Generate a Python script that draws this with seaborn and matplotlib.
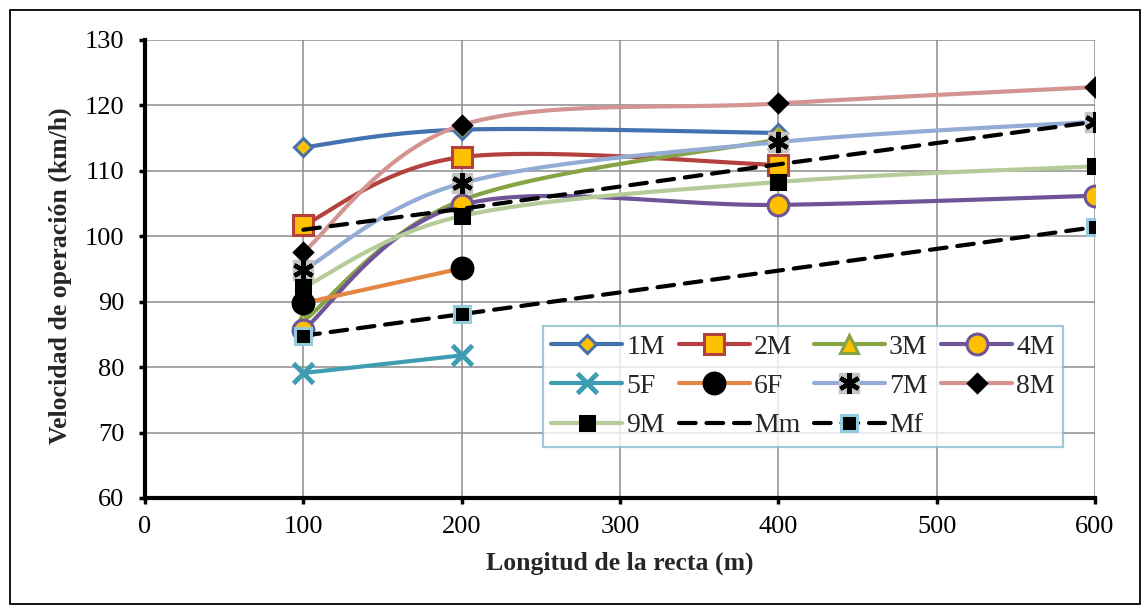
import numpy as np
import pandas as pd
import matplotlib
matplotlib.use("Agg")
import matplotlib.pyplot as plt
import seaborn as sns
from matplotlib.lines import Line2D
from matplotlib.legend_handler import HandlerTuple
from matplotlib.patches import Rectangle

# ---------------- data ----------------
x_1M = [100, 200, 400]
y_1M = [113.6, 116.3, 115.8]
x_2M = [100, 200, 400]
y_2M = [101.7, 112.1, 110.9]
x_3M = [100, 200, 400]
y_3M = [87.0, 105.5, 114.8]
x_4M = [100, 200, 400, 600]
y_4M = [85.7, 104.8, 104.8, 106.2]
x_5F = [100, 200]
y_5F = [79.1, 81.8]
x_6F = [100, 200]
y_6F = [89.8, 95.1]
x_7M = [100, 200, 400, 600]
y_7M = [94.8, 108.1, 114.4, 117.5]
x_8M = [100, 200, 400, 600]
y_8M = [97.6, 117.0, 120.3, 122.8]
x_9M = [100, 200, 400, 600]
y_9M = [92.2, 103.1, 108.3, 110.7]
x_Mm = [100, 200, 400, 600]
y_Mm = [101.0, 104.2, 111.0, 117.5]
x_Mf = [100, 200, 600]
y_Mf = [84.8, 88.1, 101.4]

x_ticks = [0, 100, 200, 300, 400, 500, 600]
y_ticks = [60, 70, 80, 90, 100, 110, 120, 130]
x_label = "Longitud de la recta (m)"
y_label = "Velocidad de operación (km/h)"

# ---------------- style ----------------
sns.set_theme(style="white")
plt.rcParams["font.family"] = ["Liberation Serif", "DejaVu Serif"]

YEL = "#FFC000"
series = [
    # name, x, y, color, marker, ms, face, edge, smooth, dashed
    ("1M", x_1M, y_1M, "#4472AE", "D", 9.5, YEL, "#4472AE", True, False),
    ("2M", x_2M, y_2M, "#B4413E", "s", 14, YEL, "#B4413E", True, False),
    ("3M", x_3M, y_3M, "#86A444", "^", 13, YEL, "#86A444", True, False),
    ("4M", x_4M, y_4M, "#6F5597", "o", 15, YEL, "#6F5597", True, False),
    ("5F", x_5F, y_5F, "#3F9DB3", "x", 14, "#3F9DB3", "#3F9DB3", True, False),
    ("6F", x_6F, y_6F, "#E48744", "o", 15, "black", "black", True, False),
    ("7M", x_7M, y_7M, "#92ACD6", "7M", 15, "#C4C4C4", "black", True, False),
    ("8M", x_8M, y_8M, "#D39492", "D", 9.5, "black", "black", True, False),
    ("9M", x_9M, y_9M, "#B6CC98", "s", 10, "black", "black", True, False),
    ("Mm", x_Mm, y_Mm, "black", None, 0, None, None, False, True),
    ("Mf", x_Mf, y_Mf, "black", "s", 12, "black", "#93CDDD", False, True),
]


def smooth(x, y, n=40):
    pts = np.column_stack([x, y]).astype(float)
    if len(pts) < 3:
        return pts
    out = []
    for i in range(len(pts) - 1):
        p0 = pts[i - 1] if i > 0 else pts[i]
        p1 = pts[i]
        p2 = pts[i + 1]
        p3 = pts[i + 2] if i + 2 < len(pts) else pts[i + 1]
        c1 = p1 + (p2 - p0) / 6.0
        c2 = p2 - (p3 - p1) / 6.0
        t = np.linspace(0, 1, n)[:, None]
        seg = (1 - t) ** 3 * p1 + 3 * (1 - t) ** 2 * t * c1 + 3 * (1 - t) * t ** 2 * c2 + t ** 3 * p2
        out.append(seg if i == 0 else seg[1:])
    return np.vstack(out)


W, H = 1146, 609
fig = plt.figure(figsize=(W / 100, H / 100), dpi=100)
ax = fig.add_axes([145 / W, (H - 498) / H, (1095 - 145) / W, (498 - 40) / H])

LW = 3.0
DASH = (4.0, 2.6)
STAR = (6, 2, 0)
handles = {}
z = 3
for name, xs, ys, col, mk, ms, fc, ec, sm, dashed in series:
    pts = smooth(xs, ys) if sm else np.column_stack([xs, ys])
    df = pd.DataFrame({"x": pts[:, 0], "y": pts[:, 1]})
    sns.lineplot(data=df, x="x", y="y", ax=ax, sort=False, estimator=None,
                 color=col, lw=LW, zorder=z, legend=False)
    line = ax.lines[-1]
    line.set_solid_capstyle("round")
    if dashed:
        line.set_linestyle((0, DASH))
        line.set_dash_capstyle("round")
    if mk == "7M":
        ax.plot(xs, ys, ls="none", marker="s", ms=ms, mfc=fc, mec=fc, zorder=z + 0.5)
        ax.plot(xs, ys, ls="none", marker=STAR, ms=ms * 1.0, mec="black", mew=3.2, zorder=z + 0.6)
        h = (Line2D([], [], color=col, lw=LW, marker="s", ms=ms, mfc=fc, mec=fc, solid_capstyle="round"),
             Line2D([], [], ls="none", marker=STAR, ms=ms * 1.0, mec="black", mew=3.2))
    elif mk == "x":
        ax.plot(xs, ys, ls="none", marker="x", ms=ms, mec=col, mew=3.5, zorder=z + 0.5)
        h = Line2D([], [], color=col, lw=LW, marker="x", ms=ms, mec=col, mew=3.5, solid_capstyle="round")
    elif mk is not None:
        ax.plot(xs, ys, ls="none", marker=mk, ms=ms, mfc=fc, mec=ec, mew=2.2, zorder=z + 0.5)
        h = Line2D([], [], color=col, lw=LW, marker=mk, ms=ms, mfc=fc, mec=ec, mew=2.2,
                   ls=(0, DASH) if dashed else "-", dash_capstyle="round", solid_capstyle="round")
    else:
        h = Line2D([], [], color=col, lw=LW, ls=(0, DASH), dash_capstyle="round")
    handles[name] = h
    z += 1

ax.set_xlim(0, 600)
ax.set_ylim(60, 130)
ax.set_xticks(x_ticks)
ax.set_yticks(y_ticks)
ax.grid(True, color="#8C8C8C", lw=1.1)
ax.set_axisbelow(True)
for s in ["top", "right"]:
    ax.spines[s].set_visible(False)
for s in ["left", "bottom"]:
    ax.spines[s].set_color("black")
    ax.spines[s].set_linewidth(3.0)
    ax.spines[s].set_zorder(20)
ax.tick_params(axis="both", which="major", direction="out", length=4, width=2.5,
               color="black", labelsize=19, labelcolor="black",
               left=True, bottom=True)
ax.tick_params(axis="y", pad=11)
ax.tick_params(axis="x", pad=9)
ax.set_xlabel(x_label, fontsize=18.5, fontweight="bold", labelpad=10)
ax.set_ylabel(y_label, fontsize=18.5, fontweight="bold", labelpad=8)
ax.yaxis.set_label_coords(-0.0765, 0.485)

order = ["1M", "5F", "9M", "2M", "6F", "Mm", "3M", "7M", "Mf", "4M", "8M"]
leg = ax.legend([handles[n] for n in order], order, ncol=4, loc="upper left",
                bbox_to_anchor=(0.419, 0.376), fontsize=20, frameon=True,
                fancybox=False, handlelength=2.55, handletextpad=0.15,
                columnspacing=0.5, labelspacing=0.5, borderpad=0.3,
                borderaxespad=0.0,
                handler_map={tuple: HandlerTuple(ndivide=1, pad=0)})
leg.get_frame().set_edgecolor("#86BCCC")
leg.get_frame().set_linewidth(1.6)
leg.set_zorder(30)

fig.patches.append(Rectangle((10 / W, 5 / H), (1140 - 10) / W, (599 - 5) / H,
                             transform=fig.transFigure, fill=False,
                             edgecolor="black", lw=1.3))

fig.savefig("out.png", dpi=100)
